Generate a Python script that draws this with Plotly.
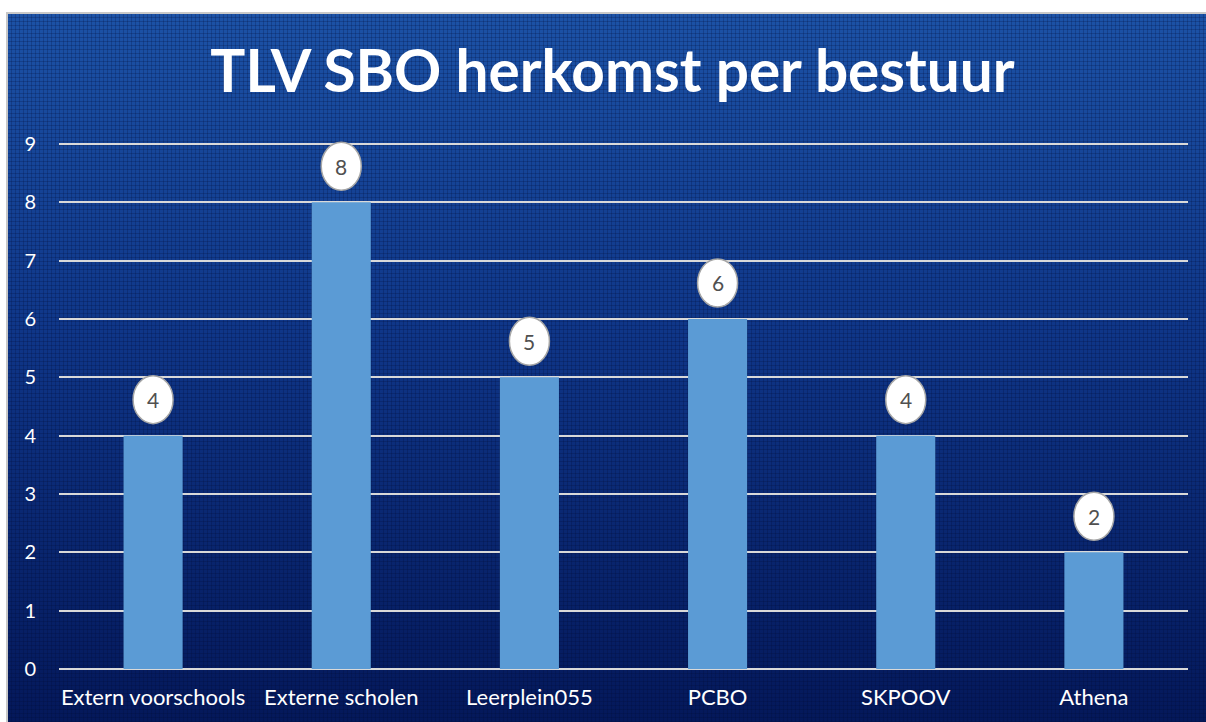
import base64
import plotly.graph_objects as go

categories = ["Extern voorschools", "Externe scholen", "Leerplein055", "PCBO", "SKPOOV", "Athena"]
values = [4, 8, 5, 6, 4, 2]
y_ticks = [0, 1, 2, 3, 4, 5, 6, 7, 8, 9]
title_text = "TLV SBO herkomst per bestuur"

W, H = 1206, 722
ML, MR, MT, MB = 59, 18, 141, 53
PW, PH = W - ML - MR, H - MT - MB

# background gradient with faint grid texture (SVG data URI)
svg = f'''<svg xmlns="http://www.w3.org/2000/svg" width="1199" height="709" viewBox="0 0 1199 709" preserveAspectRatio="none">
<defs>
<linearGradient id="g" x1="0" y1="0" x2="0" y2="1">
<stop offset="0" stop-color="#1c52a6"/>
<stop offset="0.45" stop-color="#0f3688"/>
<stop offset="1" stop-color="#04185a"/>
</linearGradient>
<pattern id="p" width="4" height="4" patternUnits="userSpaceOnUse">
<rect x="0" y="0" width="4" height="1" fill="#000830" fill-opacity="0.22"/>
<rect x="0" y="0" width="1" height="4" fill="#000830" fill-opacity="0.22"/>
</pattern>
</defs>
<rect width="1199" height="709" fill="url(#g)"/>
<rect width="1199" height="709" fill="url(#p)"/>
</svg>'''
uri = "data:image/svg+xml;base64," + base64.b64encode(svg.encode()).decode()

fig = go.Figure()
fig.add_trace(go.Bar(x=categories, y=values, marker=dict(color="#5b9bd5", line=dict(width=0)),
                     hoverinfo="skip"))

# ellipse data labels
for c, v in zip(categories, values):
    fig.add_shape(type="circle", xref="x", yref="y", xsizemode="pixel", ysizemode="pixel",
                  xanchor=c, yanchor=v, x0=-20, x1=20, y0=12, y1=60,
                  fillcolor="white", line=dict(color="#a6a6a6", width=1.5), layer="above")
    fig.add_annotation(x=c, y=v, text=str(v), showarrow=False, yshift=36,
                       font=dict(family="Lato", size=21, color="#505050"))

x0p = (7 - ML) / PW
x1p = (W - ML) / PW
y1p = 1 + (MT - 13) / PH
y0p = -(MB) / PH
fig.add_layout_image(source=uri, xref="paper", yref="paper", x=x0p, y=y1p,
                     sizex=x1p - x0p, sizey=y1p - y0p, xanchor="left", yanchor="top",
                     sizing="stretch", layer="below")
fig.add_shape(type="rect", xref="paper", yref="paper", x0=x0p, x1=x1p + 0.01, y0=y0p - 0.01, y1=y1p,
              line=dict(color="#c8c8c8", width=2), fillcolor="rgba(0,0,0,0)", layer="below")

fig.update_layout(
    width=W, height=H,
    margin=dict(l=ML, r=MR, t=MT, b=MB),
    paper_bgcolor="white", plot_bgcolor="rgba(0,0,0,0)",
    bargap=0.686,
    showlegend=False,
    title=dict(text=f"<b>{title_text}</b>", x=612.5 / W, xref="container", xanchor="center",
               y=1 - 72 / H, yanchor="middle",
               font=dict(family="Lato", size=58.5, color="white")),
    xaxis=dict(showgrid=False, showline=False, zeroline=False, ticks="",
               tickfont=dict(family="Lato", size=22, color="white"), ticklabelstandoff=13),
    yaxis=dict(range=[0, 9.05], tickvals=y_ticks, showgrid=True, gridcolor="#d9d9d9", gridwidth=1.5,
               zeroline=True, zerolinecolor="#d9d9d9", zerolinewidth=1.5, showline=False, ticks="",
               tickfont=dict(family="Lato", size=20, color="white"), ticklabelstandoff=22),
)

fig.write_html("out.html", config={"displayModeBar": False},
               post_script="document.body.style.margin='0';")
